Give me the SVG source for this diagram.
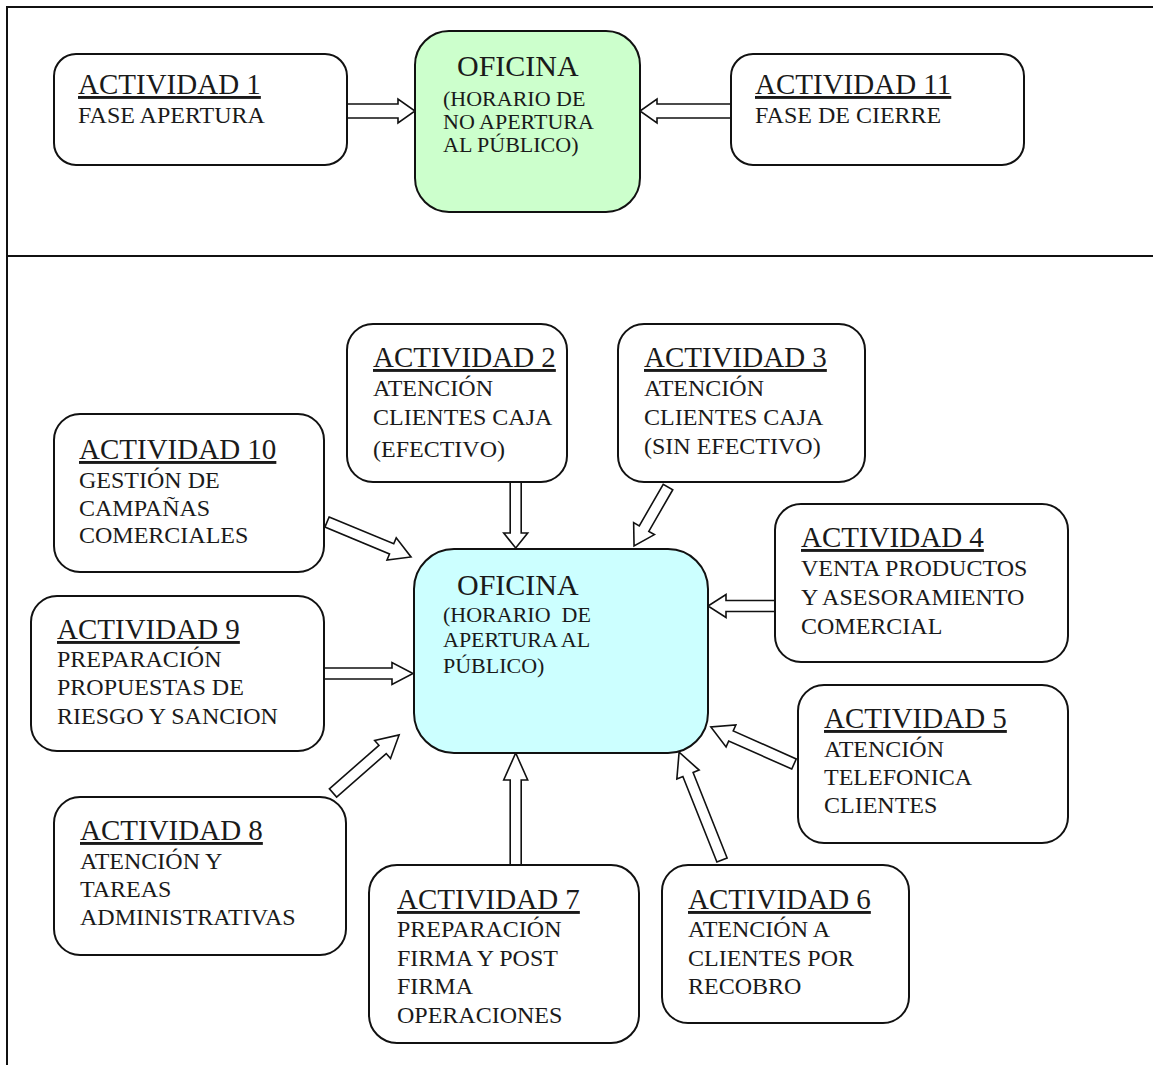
<svg xmlns="http://www.w3.org/2000/svg" width="1153" height="1065" viewBox="0 0 1153 1065">
<style>
.frame{stroke:#111;stroke-width:2;fill:none}
.box{fill:#fff;stroke:#111;stroke-width:2}
.green{fill:#ccffcc;stroke:#111;stroke-width:2}
.cyan{fill:#ccffff;stroke:#111;stroke-width:2}
text{fill:#1a1a1a}
.t{font-size:29px;text-decoration:underline}
.b{font-size:24px}
.ot{font-size:30px}
.ob{font-size:22px}
.arrow{fill:#fff;stroke:#111;stroke-width:1.6;stroke-linejoin:miter}
</style>
<rect width="1153" height="1065" fill="#fff"/>
<g id="frame">
<line class="frame" x1="7" y1="7" x2="1153" y2="7"/>
<line class="frame" x1="7" y1="6" x2="7" y2="1065"/>
<line class="frame" x1="7" y1="256" x2="1153" y2="256"/>
</g>
<g id="connectors">
<path class="arrow" transform="translate(347,111)" d="M0,-7 L51,-7 L51,-12 L68,0 L51,12 L51,7 L0,7 Z"/>
<path class="arrow" transform="translate(731,111) rotate(180)" d="M0,-7 L74,-7 L74,-12 L91,0 L74,12 L74,7 L0,7 Z"/>
<path class="arrow" transform="translate(515.7,482) rotate(90)" d="M0,-5.5 L51,-5.5 L51,-12 L66,0 L51,12 L51,5.5 L0,5.5 Z"/>
<path class="arrow" transform="translate(668,487) rotate(119.95)" d="M0,-5.5 L48,-5.5 L48,-12 L68,0 L48,12 L48,5.5 L0,5.5 Z"/>
<path class="arrow" transform="translate(327,522) rotate(22.6)" d="M0,-5.5 L70,-5.5 L70,-12 L91,0 L70,12 L70,5.5 L0,5.5 Z"/>
<path class="arrow" transform="translate(775,606) rotate(180)" d="M0,-5.5 L49,-5.5 L49,-11.5 L67,0 L49,11.5 L49,5.5 L0,5.5 Z"/>
<path class="arrow" transform="translate(324,673.5)" d="M0,-5.5 L68,-5.5 L68,-11 L89,0 L68,11 L68,5.5 L0,5.5 Z"/>
<path class="arrow" transform="translate(333,793) rotate(-41.3)" d="M0,-5.5 L66,-5.5 L66,-12 L88,0 L66,12 L66,5.5 L0,5.5 Z"/>
<path class="arrow" transform="translate(515.7,865) rotate(-90)" d="M0,-5.5 L85,-5.5 L85,-12 L112,0 L85,12 L85,5.5 L0,5.5 Z"/>
<path class="arrow" transform="translate(722,860) rotate(-111.7)" d="M0,-5.5 L92,-5.5 L92,-12 L116,0 L92,12 L92,5.5 L0,5.5 Z"/>
<path class="arrow" transform="translate(794,764) rotate(-156)" d="M0,-5.5 L69,-5.5 L69,-12 L91,0 L69,12 L69,5.5 L0,5.5 Z"/>
</g>
<g id="nodes" font-family="Liberation Serif, DejaVu Serif, Noto Serif, serif">
<g id="act1">
<rect class="box" x="54" y="54" width="293" height="111" rx="22"/>
<text class="t" x="78" y="94">ACTIVIDAD 1</text>
<text class="b" x="78" y="123">FASE APERTURA</text>
</g>
<g id="oficina-cierre">
<rect class="green" x="415" y="31" width="225" height="181" rx="34"/>
<text class="ot" x="457" y="76">OFICINA</text>
<text class="ob" x="443" y="106">(HORARIO DE</text>
<text class="ob" x="443" y="129">NO APERTURA</text>
<text class="ob" x="443" y="152">AL PÚBLICO)</text>
</g>
<g id="act11">
<rect class="box" x="731" y="54" width="293" height="111" rx="22"/>
<text class="t" x="755" y="94">ACTIVIDAD 11</text>
<text class="b" x="755" y="123">FASE DE CIERRE</text>
</g>
<g id="act2">
<rect class="box" x="347" y="324" width="220" height="158" rx="26"/>
<text class="t" x="373" y="367">ACTIVIDAD 2</text>
<text class="b" x="373" y="396">ATENCIÓN</text>
<text class="b" x="373" y="425">CLIENTES CAJA</text>
<text class="b" x="373" y="457">(EFECTIVO)</text>
</g>
<g id="act3">
<rect class="box" x="618" y="324" width="247" height="158" rx="26"/>
<text class="t" x="644" y="367">ACTIVIDAD 3</text>
<text class="b" x="644" y="396">ATENCIÓN</text>
<text class="b" x="644" y="425">CLIENTES CAJA</text>
<text class="b" x="644" y="454">(SIN EFECTIVO)</text>
</g>
<g id="act10">
<rect class="box" x="54" y="414" width="270" height="158" rx="26"/>
<text class="t" x="79" y="459">ACTIVIDAD 10</text>
<text class="b" x="79" y="488">GESTIÓN DE</text>
<text class="b" x="79" y="516">CAMPAÑAS</text>
<text class="b" x="79" y="543">COMERCIALES</text>
</g>
<g id="act4">
<rect class="box" x="775" y="504" width="293" height="158" rx="26"/>
<text class="t" x="801" y="547">ACTIVIDAD 4</text>
<text class="b" x="801" y="576">VENTA PRODUCTOS</text>
<text class="b" x="801" y="605">Y ASESORAMIENTO</text>
<text class="b" x="801" y="634">COMERCIAL</text>
</g>
<g id="act9">
<rect class="box" x="31" y="596" width="293" height="155" rx="26"/>
<text class="t" x="57" y="639">ACTIVIDAD 9</text>
<text class="b" x="57" y="667">PREPARACIÓN</text>
<text class="b" x="57" y="695">PROPUESTAS DE</text>
<text class="b" x="57" y="724">RIESGO Y SANCION</text>
</g>
<g id="oficina-apertura">
<rect class="cyan" x="414" y="549" width="294" height="204" rx="40"/>
<text class="ot" x="457" y="595">OFICINA</text>
<text class="ob" x="443" y="622" xml:space="preserve">(HORARIO  DE</text>
<text class="ob" x="443" y="647">APERTURA AL</text>
<text class="ob" x="443" y="673">PÚBLICO)</text>
</g>
<g id="act5">
<rect class="box" x="798" y="685" width="270" height="158" rx="26"/>
<text class="t" x="824" y="728">ACTIVIDAD 5</text>
<text class="b" x="824" y="757">ATENCIÓN</text>
<text class="b" x="824" y="785">TELEFONICA</text>
<text class="b" x="824" y="813">CLIENTES</text>
</g>
<g id="act8">
<rect class="box" x="54" y="797" width="292" height="158" rx="26"/>
<text class="t" x="80" y="840">ACTIVIDAD 8</text>
<text class="b" x="80" y="869">ATENCIÓN Y</text>
<text class="b" x="80" y="897">TAREAS</text>
<text class="b" x="80" y="925">ADMINISTRATIVAS</text>
</g>
<g id="act7">
<rect class="box" x="369" y="865" width="270" height="178" rx="28"/>
<text class="t" x="397" y="909">ACTIVIDAD 7</text>
<text class="b" x="397" y="937">PREPARACIÓN</text>
<text class="b" x="397" y="966">FIRMA Y POST</text>
<text class="b" x="397" y="994">FIRMA</text>
<text class="b" x="397" y="1023">OPERACIONES</text>
</g>
<g id="act6">
<rect class="box" x="662" y="865" width="247" height="158" rx="26"/>
<text class="t" x="688" y="909">ACTIVIDAD 6</text>
<text class="b" x="688" y="937">ATENCIÓN A</text>
<text class="b" x="688" y="966">CLIENTES POR</text>
<text class="b" x="688" y="994">RECOBRO</text>
</g>
</g>
</svg>
